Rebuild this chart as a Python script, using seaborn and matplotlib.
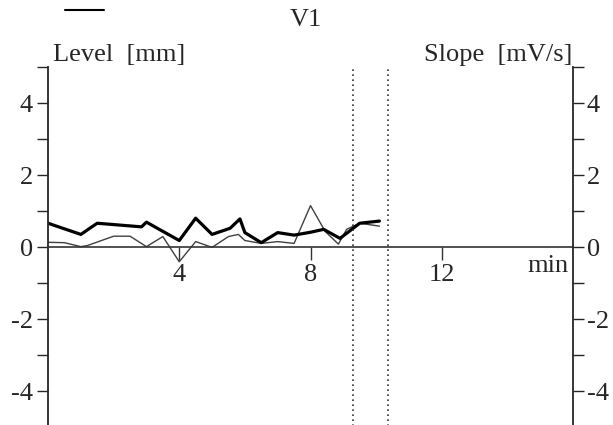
import matplotlib
matplotlib.use('Agg')
import matplotlib.pyplot as plt
import seaborn as sns
from matplotlib.lines import Line2D

# Level [mm] (thick trace) and Slope [mV/s] (thin trace), time in minutes
level_t = [0.0, 1.0, 1.5, 2.85, 3.0, 4.0, 4.5, 5.0, 5.55, 5.85, 6.0, 6.5,
           7.0, 7.5, 8.0, 8.4, 8.9, 9.5, 10.1]
level_mm = [0.66, 0.35, 0.66, 0.56, 0.69, 0.18, 0.80, 0.35, 0.52, 0.78, 0.40, 0.12,
            0.40, 0.33, 0.41, 0.49, 0.24, 0.66, 0.72]

slope_t = [0.0, 0.5, 1.0, 1.2, 2.0, 2.5, 3.0, 3.5, 4.0, 4.5, 5.0, 5.5, 5.8,
           6.0, 6.5, 7.0, 7.5, 8.0, 8.45, 8.85, 9.1, 9.5, 10.1]
slope_mv = [0.13, 0.12, 0.01, 0.04, 0.30, 0.30, 0.01, 0.29, -0.41, 0.15, -0.01, 0.29, 0.35,
            0.18, 0.10, 0.15, 0.10, 1.15, 0.43, 0.08, 0.49, 0.66, 0.58]

marker_t = [9.3, 10.37]
x_ticks = [4, 8, 12]
y_ticks = [-4, -2, 0, 2, 4]
y_minor = [-3, -1, 1, 3, 5]

sns.set_style('ticks')
plt.rcParams['font.family'] = ['Liberation Serif', 'DejaVu Serif']
plt.rcParams['axes.unicode_minus'] = False
fs = 19

W, H = 613, 425
fig = plt.figure(figsize=(W / 100, H / 100), dpi=100)
ax = fig.add_axes([48 / W, -2 / H, 525 / W, 360 / H])
ax.patch.set_alpha(0)

sns.lineplot(x=slope_t, y=slope_mv, ax=ax, color='#404040', lw=1.0)
sns.lineplot(x=level_t, y=level_mm, ax=ax, color='black', lw=2.3)
for t in marker_t:
    ax.axvline(t, color='#333333', ls=(0, (1, 2)), lw=1.2)

ax.set_xlim(0, 16)
ax.set_ylim(-5, 5)
ax.spines['top'].set_visible(False)
ax.spines['right'].set_visible(False)
ax.spines['bottom'].set_position(('data', 0))
ax.spines['bottom'].set_color('#333333')
ax.spines['bottom'].set_linewidth(1.2)
ax.spines['left'].set_linewidth(1.3)
ax.set_xticks(x_ticks)
ax.set_xticklabels([str(v) for v in x_ticks])
ax.tick_params(axis='x', direction='out', length=9, width=1, pad=3,
               labelsize=fs, color='#333333')
ax.set_yticks(y_ticks)
ax.set_yticks(y_minor, minor=True)
ax.tick_params(axis='y', which='both', direction='out', length=8, width=1,
               pad=3, labelsize=fs)
ax.set_xlabel('')
ax.set_ylabel('')

ax2 = ax.twinx()
ax2.set_ylim(-5, 5)
for s in ['top', 'bottom', 'left']:
    ax2.spines[s].set_visible(False)
ax2.spines['right'].set_linewidth(1.3)
ax2.set_yticks(y_ticks)
ax2.set_yticks(y_minor, minor=True)
ax2.tick_params(axis='y', which='both', direction='out', length=8, width=1,
                pad=2, labelsize=fs)

fig.text(306 / W, 1 - 20 / H, 'V1', ha='center', va='center', fontsize=fs)
fig.text(53 / W, 1 - 61 / H, 'Level  [mm]', ha='left', va='baseline', fontsize=fs)
fig.text(572 / W, 1 - 61 / H, 'Slope  [mV/s]', ha='right', va='baseline', fontsize=fs)
fig.text(569 / W, 1 - 272 / H, 'min', ha='right', va='baseline', fontsize=fs)
fig.add_artist(Line2D([65 / W, 104 / W], [1 - 10 / H, 1 - 10 / H],
                      color='black', lw=1.5))

fig.savefig('out.png', dpi=100)
